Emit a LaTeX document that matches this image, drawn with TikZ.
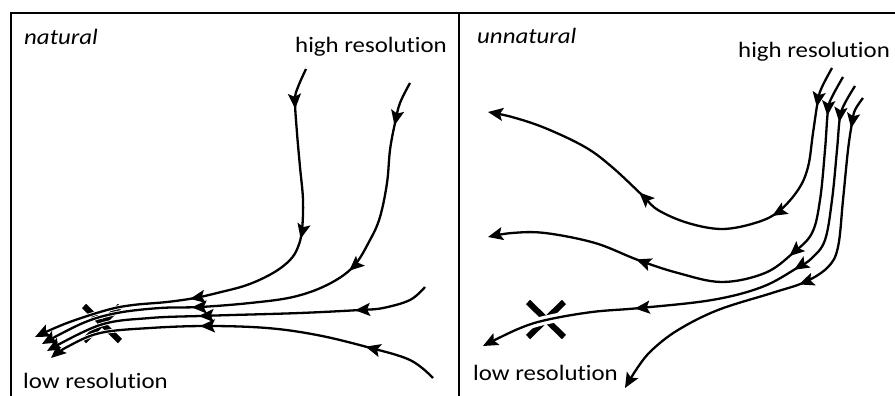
\documentclass[tikz,border=0pt]{standalone}
\usepackage{fontspec}
\setmainfont{Carlito}[Ligatures=NoCommon]
\usetikzlibrary{arrows.meta,decorations.markings}
\newcommand{\stretched}[1]{\scalebox{1.13}[1]{#1}}
\tikzset{
  frame/.style={line width=2.5pt},
  flow/.style={line width=2.3pt,-{Stealth[length=15pt,width=13pt,inset=3pt]}},
  tipat/.style={postaction={decorate,decoration={markings,
      mark=at position #1 with {\arrow{Stealth[length=15pt,width=13pt,inset=3pt]}}}}},
  halo/.style={preaction={draw,white,line width=#1,-}},
  halo/.default=4pt,
  cross/.style={line width=6pt},
  lbl/.style={font=\fontsize{22}{24}\selectfont,inner sep=0pt,anchor=base west},
}
\begin{document}
\begin{tikzpicture}[x=1pt,y=-1pt]
  \useasboundingbox (0,0) rectangle (895,396);
  % frame
  \draw[frame] (11,396) -- (11,13) -- (895,13);
  \draw[frame] (459,13) -- (459,396);
  % labels
  \node[lbl] (natl) at (24,45) {\stretched{\itshape natural}};
  \node[lbl] (hiL) at (295,53) {\stretched{high resolution}};
  \node[lbl] (lowL) at (23,388) {\stretched{low resolution}};
  \node[lbl] (unnatl) at (477,44) {\stretched{\itshape unnatural}};
  \node[lbl] (hiR) at (738,58) {\stretched{high resolution}};
  \node[lbl] (lowR) at (473,380) {\stretched{low resolution}};
  % crosses
  \draw[cross] (84,306) -- (120,341) (120,306) -- (84,341);
  \draw[cross] (528,302) -- (564,337) (564,302) -- (528,337);
  % natural: streams merge into one bundle
  \draw[flow,halo,tipat=0.09,tipat=0.37,tipat=0.655] plot[smooth,tension=0.6] coordinates {
    (306,69) (298,87) (295,100) (297,133) (300,167) (303,200) (302,230)
    (298,247) (290,260) (273,273) (247,285) (217,293) (195,298) (167,302)
    (133,305) (107,310) (67,323) (35,337)};
  \draw[flow,halo,tipat=0.087,tipat=0.385,tipat=0.70] plot[smooth,tension=0.6] coordinates {
    (410,83) (400,103) (395,123) (390,150) (387,183) (380,217) (370,240)
    (353,267) (327,285) (293,297) (250,303) (200,307) (160,308) (117,313)
    (83,323) (42,344)};
  \draw[flow,halo,tipat=0.195,tipat=0.595] plot[smooth,tension=0.6] coordinates {
    (425,287) (410,300) (383,308) (360,310) (300,313) (233,315) (200,316)
    (150,318) (100,325) (47,351)};
  \draw[flow,halo,tipat=0.19,tipat=0.61] plot[smooth,tension=0.6] coordinates {
    (433,378) (410,360) (367,347) (317,335) (267,328) (207,326) (150,328)
    (100,333) (67,347) (51,358)};
  % unnatural: streams spread apart
  \draw[flow,tipat=0.087,tipat=0.34,tipat=0.64] plot[smooth,tension=0.6] coordinates {
    (832,68) (822,87) (818,100) (813,133) (808,167) (798,190) (778,212)
    (755,223) (722,229) (688,223) (658,210) (642,195) (612,167) (585,147)
    (545,128) (512,117) (488,112)};
  \draw[flow,tipat=0.083,tipat=0.38,tipat=0.70] plot[smooth,tension=0.6] coordinates {
    (843,77) (832,97) (828,110) (825,150) (820,200) (812,233) (793,253)
    (765,273) (722,282) (678,273) (638,260) (595,243) (545,233) (512,233)
    (488,237)};
  \draw[flow,halo=9pt,tipat=0.076,tipat=0.385,tipat=0.70] plot[smooth,tension=0.6] coordinates {
    (855,86) (845,103) (840,117) (837,150) (832,200) (825,240) (812,258)
    (797,268) (762,287) (712,300) (640,308) (592,312) (546,320) (518,329)
    (483,346)};
  \draw[flow,tipat=0.079,tipat=0.50] plot[smooth,tension=0.6] coordinates {
    (863,98) (855,110) (852,123) (848,150) (843,200) (838,247) (828,267)
    (805,282) (772,293) (718,310) (678,330) (652,350) (638,367) (625,388)};
\end{tikzpicture}
\end{document}
